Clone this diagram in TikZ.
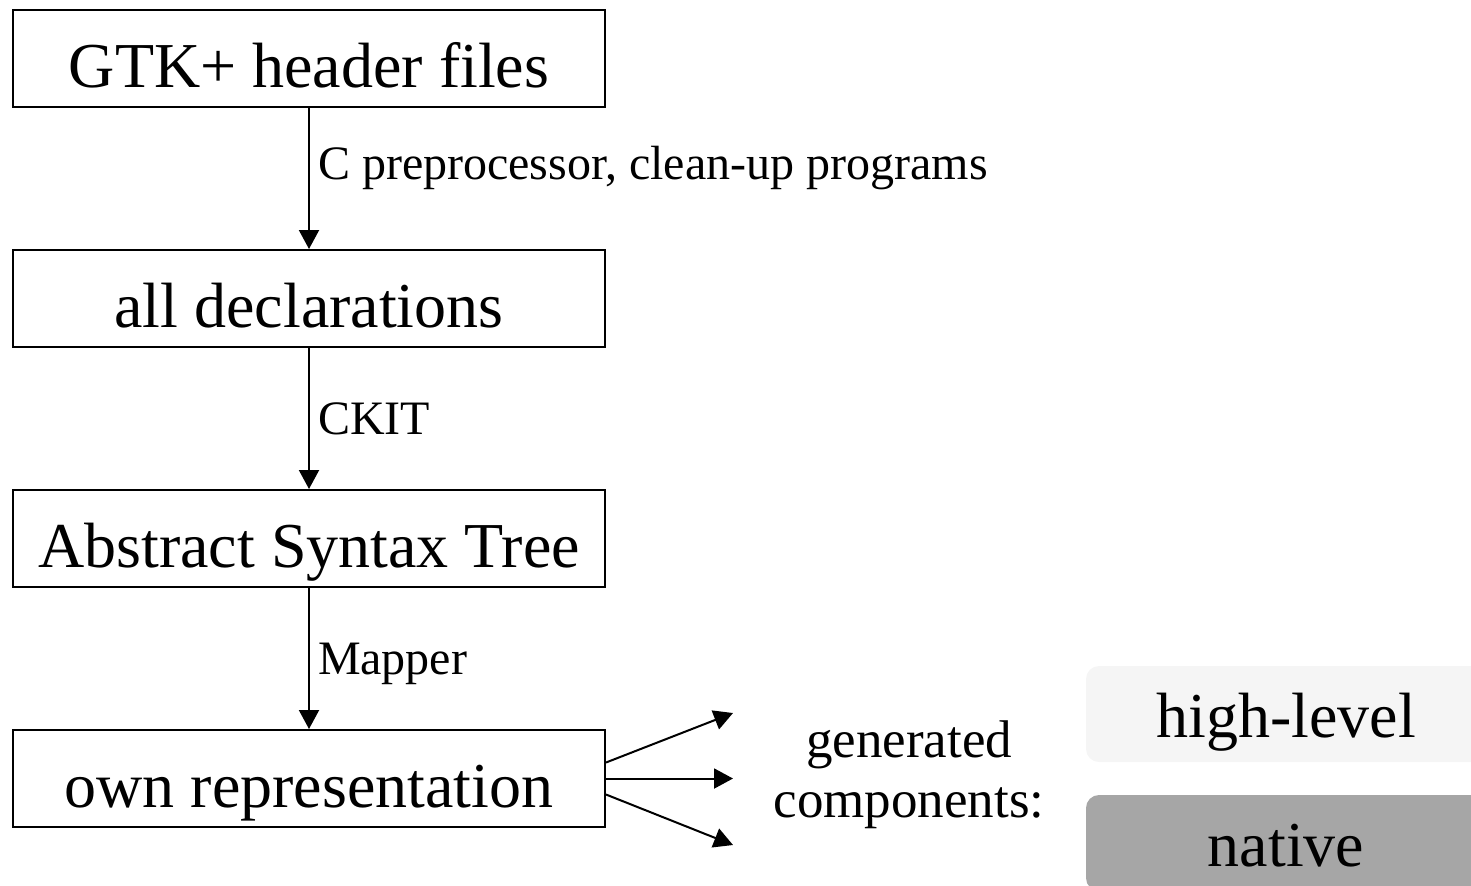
\documentclass[tikz,border=0pt]{standalone}
\usepackage{fontspec}
\setmainfont{Liberation Serif}
\usetikzlibrary{arrows.meta}
\definecolor{hlgray}{HTML}{F5F5F5}
\definecolor{ntgray}{HTML}{A6A6A6}
\begin{document}
\begin{tikzpicture}[x=0.5pt,y=-0.5pt,line width=1pt,
  box/.style={draw,minimum width=296pt,minimum height=48.5pt,inner sep=0pt,
    text height=30pt,text depth=1.5pt,font=\fontsize{32}{36}\selectfont},
  comp/.style={rounded corners=6.5pt,minimum width=200pt,minimum height=48pt,inner sep=0pt,
    text height=26pt,text depth=3pt,font=\fontsize{32}{36}\selectfont},
  lbl/.style={anchor=base west,inner sep=0pt,xshift=4pt,font=\fontsize{24}{28}\selectfont},
  arr/.style={-{Triangle[length=9.5pt,width=10pt]}}]
\clip(0,0)rectangle(1471,885);
\node[box](gtk)at(309,58.5){GTK+ header files};
\node[box](decl)at(309,298.5){all declarations};
\node[box](ast)at(309,538.5){Abstract Syntax Tree};
\node[box](own)at(309,778.5){own representation};
\draw[arr](gtk)--node[lbl,pos=0.51]{C preprocessor, clean-up programs}(decl);
\draw[arr](decl)--node[lbl,pos=0.615]{CKIT}(ast);
\draw[arr](ast)--node[lbl,pos=0.615]{Mapper}(own);
% generated parts
\coordinate(g1)at(733,713);
\coordinate(g2)at(733,778.5);
\coordinate(g3)at(733,845);
\draw[arr]([yshift=8pt]own.east)--(g1);
\draw[arr](own.east)--(g2);
\draw[arr]([yshift=-8pt]own.east)--(g3);
\node[align=center,inner sep=0pt,font=\fontsize{26.5}{30}\selectfont](gen)at(909,775){generated\\components:};
\node[comp,fill=hlgray](high)at(1286,714){high-level};
\node[comp,fill=ntgray](native)at(1286,843){native};
\end{tikzpicture}
\end{document}
